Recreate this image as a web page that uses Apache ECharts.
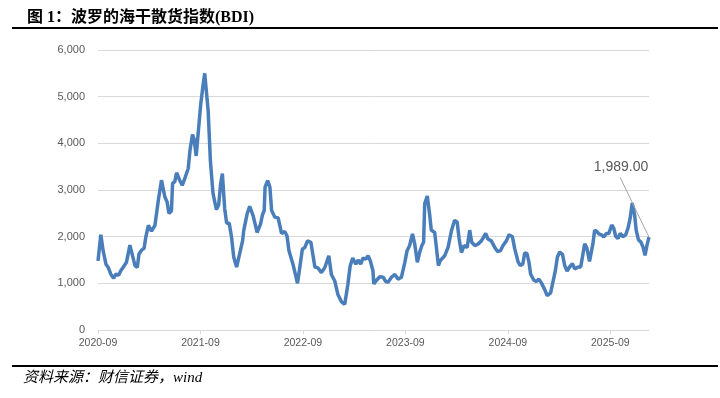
<!DOCTYPE html>
<html>
<head>
<meta charset="utf-8">
<script src="https://cdn.jsdelivr.net/npm/echarts@6/dist/echarts.min.js"></script>
<style>
  html, body { margin: 0; padding: 0; background: #fff; }
  #chart { width: 720px; height: 398px; }
</style>
</head>
<body>
<div id="chart"></div>
<script>
// BDI (roughly weekly)
const dates = [
  '2020-09-01','2020-09-11','2020-09-19','2020-09-29','2020-10-07','2020-10-16','2020-10-26','2020-11-03','2020-11-14','2020-11-21',
  '2020-11-29','2020-12-11','2020-12-23','2020-12-29','2021-01-11','2021-01-19','2021-01-25','2021-02-04','2021-02-13','2021-02-19',
  '2021-02-28','2021-03-09','2021-03-21','2021-04-03','2021-04-14','2021-04-26','2021-05-04','2021-05-10','2021-05-19','2021-05-23',
  '2021-06-01','2021-06-07','2021-06-18','2021-06-27','2021-07-06','2021-07-18','2021-07-24','2021-08-03','2021-08-09','2021-08-16',
  '2021-08-23','2021-09-02','2021-09-10','2021-09-16','2021-09-28','2021-10-06','2021-10-15','2021-10-27','2021-11-05','2021-11-12',
  '2021-11-18','2021-11-26','2021-12-03','2021-12-12','2021-12-20','2021-12-28','2022-01-08','2022-01-17','2022-01-29','2022-02-03',
  '2022-02-10','2022-02-15','2022-02-24','2022-03-06','2022-03-20','2022-04-02','2022-04-09','2022-04-15','2022-04-18','2022-04-27',
  '2022-05-05','2022-05-11','2022-05-22','2022-06-04','2022-06-16','2022-06-27','2022-07-05','2022-07-12','2022-07-26','2022-08-12',
  '2022-08-20','2022-08-29','2022-09-08','2022-09-17','2022-09-29','2022-10-13','2022-10-24','2022-11-06','2022-11-18','2022-12-02',
  '2022-12-11','2022-12-23','2023-01-04','2023-01-16','2023-01-28','2023-02-09','2023-02-17','2023-02-26','2023-03-07','2023-03-15',
  '2023-03-24','2023-04-02','2023-04-12','2023-04-20','2023-04-28','2023-05-07','2023-05-10','2023-05-19','2023-06-01','2023-06-13',
  '2023-06-22','2023-06-30','2023-07-12','2023-07-24','2023-08-05','2023-08-17','2023-08-29','2023-09-07','2023-09-16','2023-09-26',
  '2023-10-04','2023-10-13','2023-10-21','2023-10-29','2023-11-05','2023-11-09','2023-11-18','2023-11-26','2023-12-02','2023-12-14',
  '2023-12-20','2023-12-27','2024-01-04','2024-01-11','2024-01-19','2024-02-01','2024-02-13','2024-02-24','2024-03-03','2024-03-10',
  '2024-03-18','2024-03-27','2024-04-08','2024-04-17','2024-04-24','2024-05-05','2024-05-16','2024-05-28','2024-06-06','2024-06-13',
  '2024-06-21','2024-07-03','2024-07-15','2024-07-25','2024-08-05','2024-08-14','2024-08-26','2024-09-05','2024-09-17','2024-09-25',
  '2024-10-07','2024-10-15','2024-10-24','2024-10-30','2024-11-08','2024-11-15','2024-11-21','2024-12-02','2024-12-11','2024-12-20',
  '2024-12-29','2025-01-05','2025-01-11','2025-01-19','2025-01-31','2025-02-10','2025-02-18','2025-02-25','2025-03-03','2025-03-13',
  '2025-03-21','2025-03-29','2025-04-08','2025-04-18','2025-04-26','2025-05-08','2025-05-17','2025-05-23','2025-06-01','2025-06-09',
  '2025-06-18','2025-06-24','2025-06-30','2025-07-06','2025-07-14','2025-07-21','2025-07-30','2025-08-08','2025-08-17','2025-08-26',
  '2025-09-06','2025-09-13','2025-09-20','2025-09-28','2025-10-06','2025-10-15','2025-10-25','2025-11-03','2025-11-11','2025-11-18',
  '2025-11-26','2025-12-02','2025-12-10','2025-12-18','2025-12-26','2026-01-03','2026-01-10','2026-01-17'
];
const bdi = [
  1480,2040,1700,1410,1340,1195,1110,1195,1180,1270,
  1340,1450,1820,1810,1380,1340,1630,1710,1750,1990,
  2240,2120,2240,2780,3210,2850,2740,2500,2550,3140,
  3180,3370,3210,3100,3250,3460,3840,4190,4080,3730,
  4220,4840,5240,5500,4700,3620,2930,2580,2680,3140,
  3350,2610,2290,2290,2000,1560,1350,1590,1910,2130,
  2110,2490,2650,2450,2090,2270,2470,2560,3060,3200,
  3060,2560,2420,2400,2070,2110,2020,1700,1410,1000,
  1340,1730,1770,1910,1880,1350,1330,1230,1340,1590,
  1190,1050,760,610,550,980,1370,1540,1410,1500,
  1410,1540,1520,1590,1480,1270,990,1060,1140,1130,
  1040,1020,1130,1190,1090,1130,1450,1700,1810,2060,
  1840,1450,1660,1810,1880,2710,2870,2490,2140,2090,
  1770,1380,1490,1450,1590,1770,2130,2350,2310,1950,
  1660,1810,1770,2140,1880,1810,1840,1910,1990,2070,
  1950,1910,1770,1680,1700,1810,1910,2040,2000,1750,
  1460,1380,1420,1650,1640,1460,1200,1070,1040,1090,
  1010,1050,860,740,790,1040,1270,1560,1670,1620,
  1380,1260,1350,1420,1310,1350,1350,1560,1850,1750,
  1470,1490,1850,2140,2110,2060,2040,1990,2070,2070,
  2250,2180,2010,1960,2070,2000,2040,2180,2400,2720,
  2490,2140,1930,1890,1780,1600,1820,1989
];
const yTicks = [0, 1000, 2000, 3000, 4000, 5000, 6000];
const xLabelMonth = '09';

// months since 2020-09-01
function toMonth(d) {
  const p = d.split('-').map(Number);
  return (p[0] - 2020) * 12 + (p[1] - 9) + (p[2] - 1) / 30;
}

const points = dates.map((d, i) => [toMonth(d), bdi[i]]);
const lastIdx = points.length - 1;
const fmt = v => v.toLocaleString('en-US');

const chart = echarts.init(document.getElementById('chart'), null, { renderer: 'canvas' });

const frame = [
  { type: 'line', shape: { x1: 12, y1: 28, x2: 718, y2: 28 }, style: { stroke: '#000', lineWidth: 2 } },
  { type: 'line', shape: { x1: 12, y1: 366, x2: 718, y2: 366 }, style: { stroke: '#000', lineWidth: 2 } },
  {
    type: 'text', left: 23, top: 371,
    style: {
      text: '资料来源：财信证券，wind',
      font: 'italic 15px "Liberation Serif", "Noto Sans CJK SC", serif',
      fill: '#000'
    }
  }
];

chart.setOption({
  backgroundColor: '#ffffff',
  animation: false,
  title: {
    text: '图 1：波罗的海干散货指数(BDI)',
    left: 22,
    top: 5,
    textStyle: {
      fontFamily: '"Liberation Serif", "Noto Sans CJK SC", serif',
      fontSize: 16,
      fontWeight: 'bold',
      color: '#000'
    }
  },
  graphic: frame,
  grid: { left: 98, right: 71, top: 50, bottom: 68 },
  xAxis: {
    type: 'value',
    min: 0,
    max: points[lastIdx][0],
    interval: 12,
    axisLine: { show: true, lineStyle: { color: '#d9d9d9', width: 1 } },
    axisTick: { show: true, length: 4, lineStyle: { color: '#d9d9d9' } },
    splitLine: { show: false },
    axisLabel: {
      showMaxLabel: false,
      color: '#595959',
      fontFamily: '"Liberation Sans", Arial, sans-serif',
      fontSize: 10.5,
      margin: 8,
      formatter: v => (2020 + v / 12) + '-' + xLabelMonth
    }
  },
  yAxis: {
    type: 'value',
    min: yTicks[0],
    max: yTicks[yTicks.length - 1],
    interval: 1000,
    axisLine: { show: false },
    axisTick: { show: false },
    splitLine: { lineStyle: { color: '#d9d9d9', width: 1 } },
    axisLabel: {
      color: '#595959',
      fontFamily: '"Liberation Sans", Arial, sans-serif',
      fontSize: 11,
      margin: 13,
      formatter: v => fmt(v)
    }
  },
  series: [{
    type: 'line',
    data: points,
    showSymbol: false,
    smooth: false,
    lineStyle: { color: '#4a7ebb', width: 3.5 },
    itemStyle: { color: '#4a7ebb' }
  }]
});

// callout for the latest value, anchored on the last point
const [px, py] = chart.convertToPixel({ gridIndex: 0 }, points[lastIdx]);
const lastText = bdi[lastIdx].toLocaleString('en-US', { minimumFractionDigits: 2, maximumFractionDigits: 2 });
chart.setOption({
  graphic: frame.concat([
    {
      type: 'line', z: 10,
      shape: { x1: px, y1: py, x2: px - 29, y2: py - 60 },
      style: { stroke: '#a6a6a6', lineWidth: 1 }
    },
    {
      type: 'text', z: 10,
      x: px - 28, y: py - 63,
      style: {
        text: lastText,
        align: 'center',
        verticalAlign: 'bottom',
        font: '14px "Liberation Sans", Arial, sans-serif',
        fill: '#595959'
      }
    }
  ])
});
</script>
</body>
</html>
